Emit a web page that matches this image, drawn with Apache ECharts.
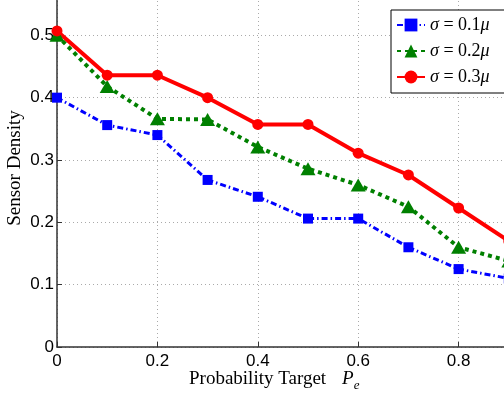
<!DOCTYPE html>
<html>
<head>
<meta charset="utf-8">
<script src="https://cdn.jsdelivr.net/npm/echarts@6/dist/echarts.min.js"></script>
<style>
  html, body { margin: 0; padding: 0; background: #fff; }
  #chart { width: 504px; height: 395px; }
</style>
</head>
<body>
<div id="chart"></div>
<script>
var xValues = [0, 0.1, 0.2, 0.3, 0.4, 0.5, 0.6, 0.7, 0.8, 0.9];
var sigma01 = [0.400, 0.356, 0.340, 0.268, 0.241, 0.206, 0.206, 0.160, 0.125, 0.110];
var sigma02 = [0.500, 0.418, 0.366, 0.365, 0.321, 0.286, 0.260, 0.225, 0.160, 0.138];
var sigma03 = [0.507, 0.436, 0.436, 0.400, 0.357, 0.357, 0.311, 0.276, 0.223, 0.170];
var seriesNames = ['0.1', '0.2', '0.3'];

function pairs(ys) {
    return xValues.map(function (x, i) { return [x, ys[i]]; });
}

var chart = echarts.init(document.getElementById('chart'));
var serif = '"Liberation Serif", "DejaVu Serif", serif';
var sans = '"Liberation Sans", Arial, sans-serif';

option = {
    animation: false,
    // plot runs past the right and top edges, like the cropped original
    grid: { left: 57, right: -55, top: -27, bottom: 48, outerBoundsMode: 'none', containLabel: false },
    legend: {
        left: 391, top: 10,
        orient: 'vertical',
        padding: [5, 40, 6, 5],
        itemGap: 6,
        itemWidth: 28, itemHeight: 16,
        backgroundColor: '#fff',
        borderColor: '#000', borderWidth: 1,
        formatter: function (name) { return '{i|σ} = ' + name + '{i|μ}'; },
        textStyle: {
            fontFamily: serif, fontSize: 18, color: '#000', lineHeight: 20,
            rich: { i: { fontFamily: serif, fontStyle: 'italic', fontSize: 18, color: '#000' } }
        }
    },
    xAxis: {
        type: 'value', min: 0, max: 1, interval: 0.2,
        axisLine: { lineStyle: { color: '#333', width: 1.5 } },
        axisTick: { inside: true, length: 5, lineStyle: { color: '#333' } },
        axisLabel: { fontFamily: sans, fontSize: 17, color: '#000', margin: 6 },
        splitLine: { show: true, lineStyle: { color: '#aaa', type: [1, 3], width: 1 } }
    },
    yAxis: {
        type: 'value', min: 0, max: 0.6, interval: 0.1,
        axisLine: { show: true, lineStyle: { color: '#333', width: 1.5 } },
        axisTick: { show: true, inside: true, length: 5, lineStyle: { color: '#333' } },
        axisLabel: { fontFamily: sans, fontSize: 17, color: '#000', margin: 3 },
        splitLine: { show: true, lineStyle: { color: '#aaa', type: [1, 3], width: 1 } }
    },
    graphic: [
        {
            type: 'text', x: 15, y: 168, rotation: Math.PI / 2,
            style: { text: 'Sensor Density', font: '19px ' + serif, fill: '#000',
                     textAlign: 'center', textVerticalAlign: 'middle' }
        },
        {
            type: 'text', x: 189, y: 379,
            style: {
                text: '{n|Probability Target}{i|P}{s|e}',
                textAlign: 'left', textVerticalAlign: 'middle',
                rich: {
                    n: { fontFamily: serif, fontSize: 19, lineHeight: 26, verticalAlign: 'middle', fill: '#000' },
                    i: { fontFamily: serif, fontStyle: 'italic', fontSize: 19, lineHeight: 26, verticalAlign: 'middle',
                         padding: [0, 0, 0, 16], fill: '#000' },
                    s: { fontFamily: serif, fontStyle: 'italic', fontSize: 13, lineHeight: 14, verticalAlign: 'bottom', fill: '#000' }
                }
            }
        }
    ],
    series: [
        {
            name: seriesNames[0], type: 'line', data: pairs(sigma01),
            symbol: 'rect', symbolSize: 10,
            itemStyle: { color: '#0000ff' },
            lineStyle: { color: '#0000ff', width: 3, type: [6, 3, 1.5, 3] }
        },
        {
            name: seriesNames[1], type: 'line', data: pairs(sigma02),
            symbol: 'triangle', symbolSize: [15, 13],
            itemStyle: { color: '#008000' },
            lineStyle: { color: '#008000', width: 4, type: [4, 4] }
        },
        {
            name: seriesNames[2], type: 'line', data: pairs(sigma03),
            symbol: 'circle', symbolSize: 11,
            itemStyle: { color: '#ff0000' },
            lineStyle: { color: '#ff0000', width: 4 }
        }
    ]
};
chart.setOption(option);
</script>
</body>
</html>
